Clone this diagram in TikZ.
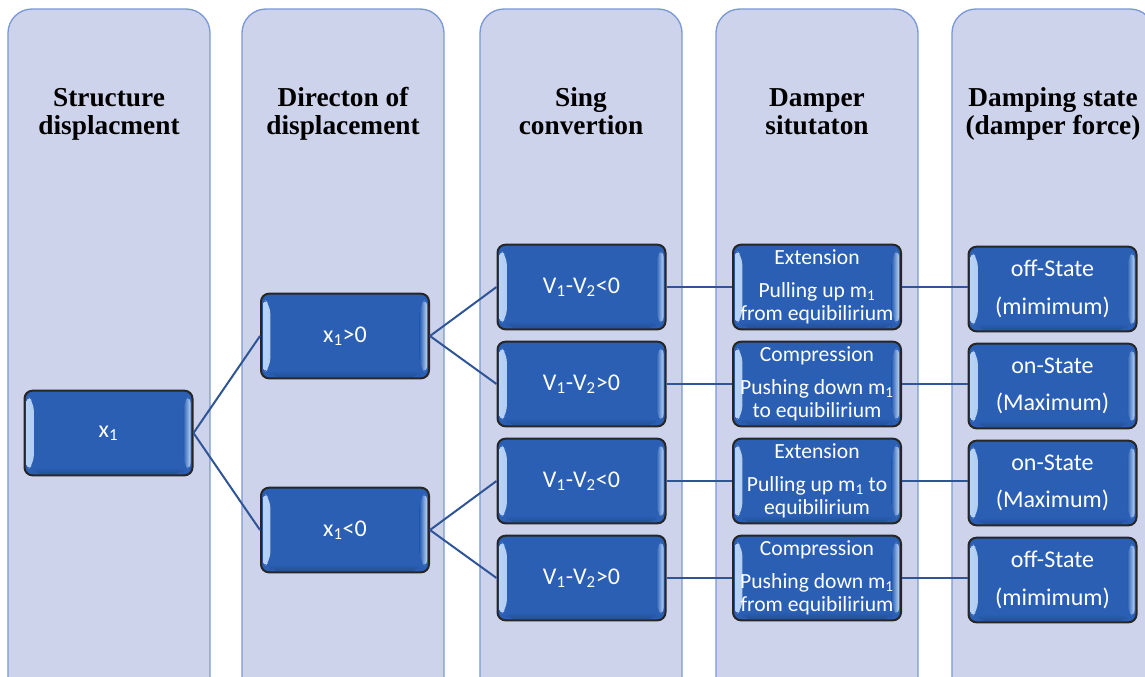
\documentclass[tikz,border=0pt]{standalone}
\usepackage{fontspec}
\setmainfont{Liberation Serif}
\newfontfamily\boxfont{Carlito}
\definecolor{boxblue}{RGB}{42,95,180}
\definecolor{bevlight}{RGB}{185,212,245}
\definecolor{colfill}{RGB}{206,211,236}
\definecolor{colline}{RGB}{122,152,212}
\definecolor{linkblue}{RGB}{47,85,151}
\tikzset{
  colpanel/.style={draw=colline, line width=1pt, fill=colfill, rounded corners=18pt},
  hdr/.style={align=center, font=\bfseries\fontsize{20.5}{21}\selectfont, text=black},
  bluebox/.style={draw=black!85, line width=1.5pt, rounded corners=6pt, fill=boxblue,
    text=white, minimum width=126pt, minimum height=63.5pt, align=center, inner sep=2pt,
    font=\boxfont\fontsize{18}{20}\selectfont,
    path picture={
      \shade[left color=bevlight, right color=boxblue]
        ([xshift=1.5pt,yshift=-3pt]path picture bounding box.north west) --
        ([xshift=7pt,yshift=-9pt]path picture bounding box.north west) --
        ([xshift=7pt,yshift=9pt]path picture bounding box.south west) --
        ([xshift=1.5pt,yshift=3pt]path picture bounding box.south west) -- cycle;
      \shade[left color=boxblue, right color=bevlight]
        ([xshift=-1.5pt,yshift=-3pt]path picture bounding box.north east) --
        ([xshift=-7pt,yshift=-9pt]path picture bounding box.north east) --
        ([xshift=-7pt,yshift=9pt]path picture bounding box.south east) --
        ([xshift=-1.5pt,yshift=3pt]path picture bounding box.south east) -- cycle;
      \shade[top color=boxblue, bottom color=boxblue!70!black, opacity=0.5]
        ([xshift=7pt,yshift=6pt]path picture bounding box.south west) rectangle
        ([xshift=-7pt,yshift=1pt]path picture bounding box.south east);
    }},
  smalltxt/.style={font=\boxfont\fontsize{16.2}{17.5}\selectfont},
  link/.style={draw=linkblue, line width=1.5pt}
}
\begin{document}
\begin{tikzpicture}[x=0.75pt,y=-0.75pt]
\useasboundingbox (0,0) rectangle (1145,676);
\clip (0,0) rectangle (1145,676);
% column panels
\draw[colpanel] (8,9) rectangle (210,720);
\draw[colpanel] (242,9) rectangle (444,720);
\draw[colpanel] (480,9) rectangle (682,720);
\draw[colpanel] (716,9) rectangle (918,720);
\draw[colpanel] (952,9) rectangle (1154,720);
% headers
\node[hdr] (h1) at (109,115) {\strut Structure\\\strut displacment};
\node[hdr] (h2) at (343,115) {\strut Directon of\\\strut displacement};
\node[hdr] (h3) at (581,115) {\strut Sing\\\strut convertion};
\node[hdr] (h4) at (817,115) {\strut Damper\\\strut situtaton};
\node[hdr] (h5) at (1053,115) {\strut Damping state\\\strut (damper force)};
% boxes
\node[bluebox] (x1) at (108.5,433) {x\textsubscript{1}};
\node[bluebox] (xp) at (345,336) {x\textsubscript{1}>0};
\node[bluebox] (xn) at (345,530) {x\textsubscript{1}<0};
\node[bluebox] (v1) at (581.5,287) {V\textsubscript{1}-V\textsubscript{2}<0};
\node[bluebox] (v2) at (581.5,384) {V\textsubscript{1}-V\textsubscript{2}>0};
\node[bluebox] (v3) at (581.5,481) {V\textsubscript{1}-V\textsubscript{2}<0};
\node[bluebox] (v4) at (581.5,578) {V\textsubscript{1}-V\textsubscript{2}>0};
\node[bluebox,smalltxt] (d1) at (817,287) {Extension\\[7pt]Pulling up m\textsubscript{1}\\from equibilirium};
\node[bluebox,smalltxt] (d2) at (817,384) {Compression\\[7pt]Pushing down m\textsubscript{1}\\to equibilirium};
\node[bluebox,smalltxt] (d3) at (817,481) {Extension\\[7pt]Pulling up m\textsubscript{1} to\\equibilirium};
\node[bluebox,smalltxt] (d4) at (817,578) {Compression\\[7pt]Pushing down m\textsubscript{1}\\from equibilirium};
\node[bluebox] (s1) at (1052.5,289) {off-State\\[8pt](mimimum)};
\node[bluebox] (s2) at (1052.5,386) {on-State\\[8pt](Maximum)};
\node[bluebox] (s3) at (1052.5,483) {on-State\\[8pt](Maximum)};
\node[bluebox] (s4) at (1052.5,580) {off-State\\[8pt](mimimum)};
% connectors
\draw[link] (x1.east) -- (xp.west);
\draw[link] (x1.east) -- (xn.west);
\draw[link] (xp.east) -- (v1.west);
\draw[link] (xp.east) -- (v2.west);
\draw[link] (xn.east) -- (v3.west);
\draw[link] (xn.east) -- (v4.west);
\draw[link] (v1.east) -- (d1.west);
\draw[link] (v2.east) -- (d2.west);
\draw[link] (v3.east) -- (d3.west);
\draw[link] (v4.east) -- (d4.west);
\draw[link] (d1.east) -- (d1.east -| s1.west);
\draw[link] (d2.east) -- (d2.east -| s2.west);
\draw[link] (d3.east) -- (d3.east -| s3.west);
\draw[link] (d4.east) -- (d4.east -| s4.west);
\end{tikzpicture}
\end{document}
